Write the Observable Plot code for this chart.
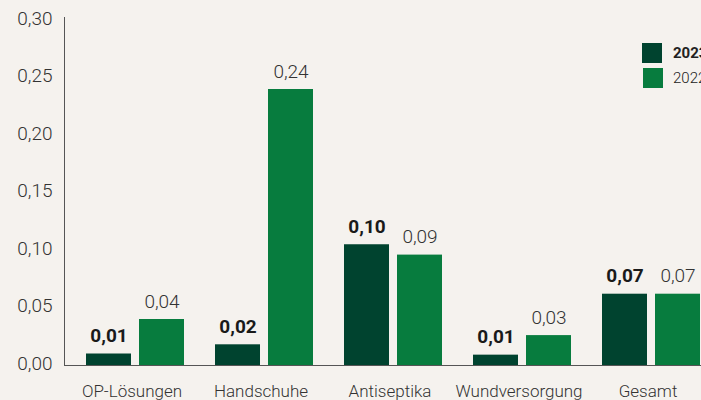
<!DOCTYPE html>
<html><head><meta charset="utf-8">
<script src="https://cdn.jsdelivr.net/npm/d3@7"></script>
<script src="https://cdn.jsdelivr.net/npm/@observablehq/plot@0.6"></script>
<style>
html,body{margin:0;padding:0;background:#f5f2ee;overflow:hidden;width:701px;height:400px;}
#wrap{position:relative;width:701px;height:400px;overflow:hidden;background:#f5f2ee;}
#chart{position:absolute;left:0;top:0;width:710px;}
#chart svg{max-width:none !important;}
#legend{position:absolute;left:642px;top:43px;font-family:Roboto,"Noto Sans",sans-serif;font-size:15px;color:#222;white-space:nowrap;}
.item{position:relative;height:25px;}
.sw{position:absolute;top:0;width:20px;height:20px;}
.lab{position:absolute;left:31px;top:0;line-height:20px;}
</style></head>
<body><div id="wrap"><div id="chart"></div><div id="legend"></div></div>
<script>
const categories = ["OP-Lösungen","Handschuhe","Antiseptika","Wundversorgung","Gesamt"];
const years = ["2023","2022"];
const values2023 = [0.010,0.018,0.105,0.009,0.062];
const values2022 = [0.040,0.240,0.096,0.026,0.062];
const labels2023 = ["0,01","0,02","0,10","0,01","0,07"];
const labels2022 = ["0,04","0,24","0,09","0,03","0,07"];
const yTicks = [0,0.05,0.10,0.15,0.20,0.25,0.30];
const colors = ["#00432f","#077c3e"];

const rows = [];
categories.forEach((c,i)=>{
  rows.push({category:c, year:"2023", value: values2023[i], label: labels2023[i]});
  rows.push({category:c, year:"2022", value: values2022[i], label: labels2022[i]});
});
const fmt = d => d3.format(".2f")(d).replace(".", ",");
const font = 'Roboto, "Noto Sans", sans-serif';

const chart = Plot.plot({
  width: 710, height: 400,
  marginLeft: 64, marginRight: 1, marginTop: 20, marginBottom: 35,
  style: {background: "transparent", fontFamily: font, fontSize: "17px", color: "#333", maxWidth: "none"},
  fx: {domain: categories, paddingInner: 0, paddingOuter: 0, axis: null},
  x: {domain: years, paddingInner: 0.148, paddingOuter: 0.2685, align: 0.7, axis: null},
  y: {domain: [0, 0.30], axis: null},
  color: {domain: years, range: colors},
  marks: [
    Plot.barY(rows, {fx: "category", x: "year", y: "value", fill: "year"}),
    Plot.ruleY([0], {stroke: "#555"}),
    Plot.frame({anchor: "left", facetAnchor: "left", stroke: "#555", insetTop: -3}),
    Plot.text(rows.filter(d => d.year === "2023"), {fx: "category", x: "year", y: "value", text: "label", dy: -18, fontWeight: "bold", fill: "#1a1a1a", fontSize: 19}),
    Plot.text(rows.filter(d => d.year === "2022"), {fx: "category", x: "year", y: "value", text: "label", dy: -18, fontWeight: 300, fill: "#333", fontSize: 19}),
    Plot.axisY(yTicks, {tickFormat: fmt, tickSize: 0, tickPadding: 12, fontSize: 19, fontWeight: 300, label: null, dy: -2, fill: "#333"}),
    Plot.axisFx({anchor: "bottom", tickSize: 0, tickPadding: 19, label: null, fontSize: 17, fontWeight: 300, dx: 3, fill: "#333"})
  ]
});
document.getElementById("chart").appendChild(chart);

const legend = document.getElementById("legend");
years.forEach((y, i) => {
  const item = document.createElement("div");
  item.className = "item";
  const sw = document.createElement("div");
  sw.className = "sw";
  sw.style.background = colors[i];
  sw.style.left = (i === 0 ? 0 : 1) + "px";
  const lab = document.createElement("div");
  lab.className = "lab";
  lab.textContent = y;
  lab.style.fontWeight = i === 0 ? "bold" : "300";
  item.appendChild(sw); item.appendChild(lab);
  legend.appendChild(item);
});
</script>
</body></html>
